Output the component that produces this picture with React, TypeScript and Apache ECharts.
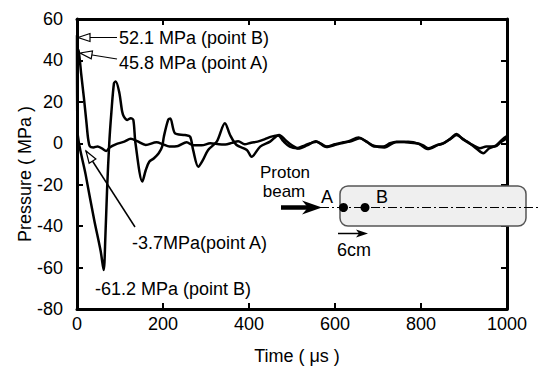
import React, { useEffect, useRef } from "react";
import * as echarts from "echarts";

// ---- data ----
const timeTicks = [0, 200, 400, 600, 800, 1000];
const pressureTicks = [-80, -60, -40, -20, 0, 20, 40, 60];

// point A (sensor at the entrance)
const timeA = [0, 4, 10, 16, 22, 26, 30, 38, 48, 58, 68, 76, 90, 110, 125, 140, 160, 185, 200, 215, 235, 255, 270, 290, 310, 330, 345, 360, 375, 390, 405, 420, 437, 452, 468, 480, 495, 511, 530, 557, 581, 600, 620, 635, 658, 675, 693, 712, 728, 743, 765, 790, 805, 817, 835, 852, 868, 883, 895, 906, 922, 937, 952, 972, 985, 1000];
const pressureA = [45.8, 44.5, 33, 22, 10, 2, -1.5, -2, -1.5, -2.5, -3.7, -2, -0.5, 0.8, 2.2, 1, -0.8, 0.5, -0.5, -1.6, -1.3, 0.5, -1, -1, 0, -0.5, -0.6, 0.2, 1, -0.5, 0.3, 0.8, 2, 3.2, 3.8, 1, -1.6, -2.4, -1, 0.8, -1.6, -0.5, 0.5, 0.8, 2.4, 0.5, -1.6, -1.6, 0, 0.8, 0.5, 0, -1, -2.4, -1, 0, 2, 4, 2.5, 0.8, -1, -2.4, -1.5, -1.6, 0.5, 2.5];

// point B (6 cm downstream)
const timeB = [0, 1, 20, 40, 55, 62, 66, 70, 75, 80, 86, 90, 98, 105, 109, 117, 125, 131, 136, 152, 160, 168, 179, 190, 198, 202, 212, 217, 228, 251, 263, 270, 282, 293, 305, 325, 344, 356, 371, 395, 406, 426, 449, 470, 485, 500, 515, 535, 555, 580, 605, 632, 655, 672, 690, 715, 740, 770, 795, 815, 840, 855, 870, 882, 897, 910, 930, 945, 958, 975, 990, 1000];
const pressureB = [52.1, 6.4, -15, -37, -52, -61.2, -45, -22, 0, 15, 29, 29.8, 24.9, 15.3, 12.9, 11.3, 12.1, 11.3, 0, -18.5, -12.9, -8.9, -7.2, -4.8, -1.6, 3.2, 11.3, 12, 4.8, 4, 3.2, -3.2, -11.3, -8, -3.2, 0.8, 9.7, 4, -0.8, -3.2, -6.5, -1.6, 0.8, 4, 1.5, -1, -2.5, -1, 1, -1.8, -0.5, 1, 2.8, 1, -1.2, -2, 0.5, 0.8, -0.3, -2.8, -0.8, 0.3, 2.5, 4.5, 2, 0.5, -2.8, -4.8, -2.5, -1, 2, 3.5];

const FONT = '"Liberation Sans", Arial, Helvetica, sans-serif';

function pairs(t: number[], p: number[]) {
  return t.map((v, i) => [v, p[i]]);
}

function arrowHead(tip: number[], from: number[], len: number, half: number, fill: string) {
  const dx = tip[0] - from[0];
  const dy = tip[1] - from[1];
  const d = Math.hypot(dx, dy);
  const ux = dx / d;
  const uy = dy / d;
  const bx = tip[0] - ux * len;
  const by = tip[1] - uy * len;
  return {
    type: "polygon",
    z: 103,
    shape: { points: [tip, [bx - uy * half, by + ux * half], [bx + uy * half, by - ux * half]] },
    style: { fill, stroke: "#000", lineWidth: 1.2 },
  };
}

function seg(a: number[], b: number[], w: number, extra: any = {}) {
  return {
    type: "line",
    z: 102,
    shape: { x1: a[0], y1: a[1], x2: b[0], y2: b[1] },
    style: { stroke: "#000", lineWidth: w, ...extra },
  };
}

function txt(x: number, y: number, text: string, align = "left", size = 18) {
  return {
    type: "text",
    z: 104,
    x,
    y,
    style: { text, fill: "#000", font: `${size}px ${FONT}`, align, verticalAlign: "middle" },
  };
}

export default function App() {
  const ref = useRef<HTMLDivElement>(null);
  useEffect(() => {
    if (!ref.current) return;
    const chart = echarts.init(ref.current, undefined, { renderer: "svg" });
    const axisCommon = {
      type: "value",
      axisLine: { show: true, onZero: false, lineStyle: { color: "#000", width: 3 } },
      axisTick: { show: true, inside: true, length: 6, lineStyle: { color: "#000", width: 2 } },
      splitLine: { show: false },
    };
    const labelStyle = { color: "#000", fontSize: 18, fontFamily: FONT };
    const graphics: any[] = [
      // axis names
      txt(297, 356, "Time ( μs )", "center"),
      { ...txt(25, 174, "Pressure ( MPa )", "center"), rotation: Math.PI / 2 },
      // annotations
      txt(119, 38, "52.1 MPa (point B)"),
      seg([117, 37.5], [84, 37.5], 1.2),
      arrowHead([78, 37.5], [117, 37.5], 12, 4, "#fff"),
      txt(119, 63, "45.8 MPa (point A)"),
      seg([117, 59], [86, 54], 1.2),
      arrowHead([80, 53], [117, 59], 12, 4, "#fff"),
      txt(132, 243, "-3.7MPa(point A)"),
      seg([135, 227], [86, 151], 1.5),
      arrowHead([86, 151], [135, 227], 12, 4, "#fff"),
      txt(95, 289, "-61.2 MPa (point B)"),
      // proton beam sketch
      txt(285, 172.5, "Proton", "center", 17),
      txt(284, 191.5, "beam", "center", 17),
      seg([281, 207.5], [308, 207.5], 4.5),
      {
        type: "polygon",
        z: 103,
        shape: { points: [[322, 207.5], [302, 200.5], [308, 207.5], [302, 214.5]] },
        style: { fill: "#000" },
      },
      {
        type: "rect",
        z: 100,
        shape: { x: 340, y: 186, width: 186, height: 40, r: 8 },
        style: { fill: "#efefef", stroke: "#555", lineWidth: 1.5 },
      },
      seg([320, 207.5], [540, 207.5], 1, { lineDash: [9, 3, 2, 3] }),
      { type: "circle", z: 103, shape: { cx: 343.5, cy: 207.5, r: 4.5 }, style: { fill: "#000" } },
      { type: "circle", z: 103, shape: { cx: 365, cy: 207.5, r: 4.5 }, style: { fill: "#000" } },
      txt(327, 197, "A", "center"),
      txt(382, 197, "B", "center"),
      seg([338, 233.5], [360, 233.5], 1.5),
      {
        type: "polygon",
        z: 103,
        shape: { points: [[368, 233.5], [356, 229.5], [359, 233.5], [356, 237.5]] },
        style: { fill: "#000" },
      },
      txt(354, 250, "6cm", "center"),
    ];
    chart.setOption({
      animation: false,
      backgroundColor: "#fff",
      grid: { left: 77, right: 33, top: 19, bottom: 59, containLabel: false },
      xAxis: [
        {
          ...axisCommon,
          position: "bottom",
          min: timeTicks[0],
          max: timeTicks[timeTicks.length - 1],
          interval: 200,
          axisLabel: { ...labelStyle, margin: 6, formatter: (v: number) => String(v) },
        },
        {
          ...axisCommon,
          position: "top",
          min: timeTicks[0],
          max: timeTicks[timeTicks.length - 1],
          interval: 200,
          axisLabel: { show: false },
        },
      ],
      yAxis: [
        {
          ...axisCommon,
          position: "left",
          min: pressureTicks[0],
          max: pressureTicks[pressureTicks.length - 1],
          interval: 20,
          axisLabel: { ...labelStyle, margin: 14 },
        },
        {
          ...axisCommon,
          position: "right",
          min: pressureTicks[0],
          max: pressureTicks[pressureTicks.length - 1],
          interval: 20,
          axisLabel: { show: false },
        },
      ],
      series: [
        {
          name: "point A",
          type: "line",
          data: pairs(timeA, pressureA),
          showSymbol: false,
          smooth: 0.3,
          lineStyle: { color: "#000", width: 2.5 },
          z: 3,
        },
        {
          name: "point B",
          type: "line",
          data: pairs(timeB, pressureB),
          showSymbol: false,
          smooth: 0.3,
          lineStyle: { color: "#000", width: 2.5 },
          z: 3,
        },
      ],
      graphic: { elements: graphics },
    });
    return () => chart.dispose();
  }, []);
  return (
    <div
      ref={ref}
      style={{ position: "fixed", left: 0, top: 0, width: 540, height: 368, background: "#fff" }}
    />
  );
}
